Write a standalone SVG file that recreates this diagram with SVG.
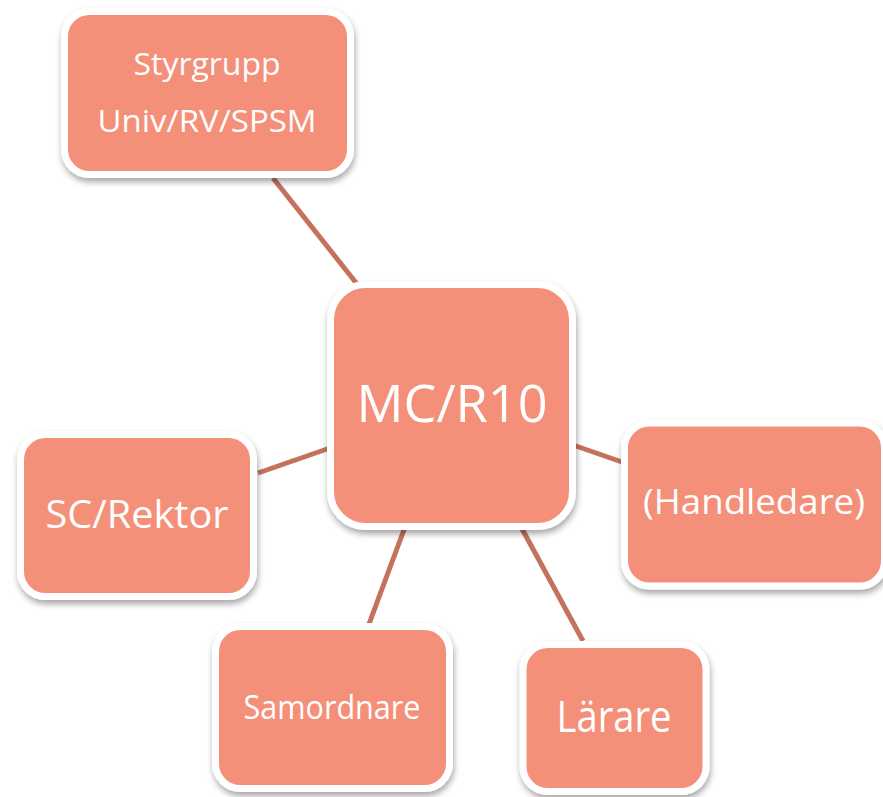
<svg xmlns="http://www.w3.org/2000/svg" width="883" height="797" viewBox="0 0 883 797">
<defs>
<filter id="sh" x="-20%" y="-20%" width="140%" height="150%">
<feDropShadow dx="1" dy="4" stdDeviation="3" flood-color="#000" flood-opacity="0.35"/>
</filter>
<style>
.box{fill:#F4907A;stroke:#FFFFFF;stroke-width:7;filter:url(#sh)}
.lbl{fill:#FFFFFF;font-family:"Open Sans","Noto Sans","Liberation Sans",sans-serif;text-anchor:middle}
.con line{stroke:#C4725D;stroke-width:5}
</style>
</defs>
<rect width="883" height="797" fill="#FFFFFF"/>
<g id="connectors" class="con">
<line x1="273" y1="178" x2="357" y2="284"/>
<line x1="258" y1="473" x2="330" y2="448"/>
<line x1="573" y1="445" x2="622" y2="462"/>
<line x1="405" y1="527" x2="369" y2="624"/>
<line x1="521" y1="527" x2="583" y2="641"/>
</g>
<g id="styrgrupp">
<rect class="box" x="64.5" y="11.5" width="286" height="163" rx="25"/>
<text class="lbl" x="207" y="75" font-size="31" textLength="147" lengthAdjust="spacingAndGlyphs">Styrgrupp</text>
<text class="lbl" x="207" y="132" font-size="31" textLength="219" lengthAdjust="spacingAndGlyphs">Univ/RV/SPSM</text>
</g>
<g id="mc">
<rect class="box" x="330.5" y="284.5" width="242" height="242" rx="35"/>
<text class="lbl" x="452" y="422" font-size="52" textLength="191" lengthAdjust="spacingAndGlyphs">MC/R10</text>
</g>
<g id="sc">
<rect class="box" x="20.5" y="434.5" width="233" height="162" rx="25"/>
<text class="lbl" x="137" y="528" font-size="39" textLength="183" lengthAdjust="spacingAndGlyphs">SC/Rektor</text>
</g>
<g id="handledare">
<rect class="box" x="624.5" y="423" width="260" height="163" rx="25"/>
<text class="lbl" x="754" y="514" font-size="34" textLength="222" lengthAdjust="spacingAndGlyphs">(Handledare)</text>
</g>
<g id="samordnare">
<rect class="box" x="215.5" y="626.5" width="234" height="162" rx="25"/>
<text class="lbl" x="332" y="719" font-size="33" textLength="177" lengthAdjust="spacingAndGlyphs">Samordnare</text>
</g>
<g id="larare">
<rect class="box" x="523" y="644.5" width="183" height="147" rx="25"/>
<text class="lbl" x="614" y="732" font-size="43" textLength="115" lengthAdjust="spacingAndGlyphs">Lärare</text>
</g>
</svg>
